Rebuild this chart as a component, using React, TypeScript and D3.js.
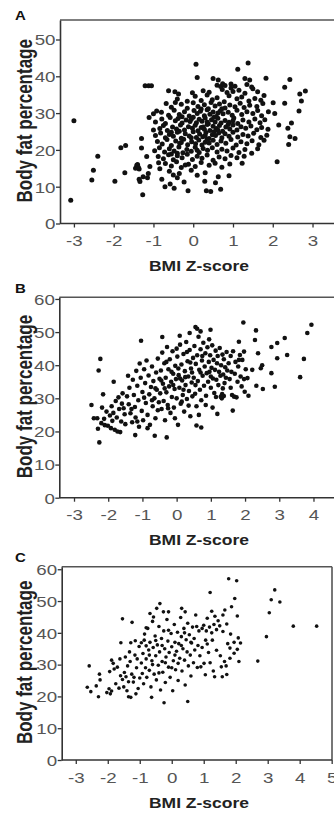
import React, { useRef, useEffect } from 'react';
import * as d3 from 'd3';

type Pt = [number, number];

const xLabel = 'BMI Z-score';
const yLabel = 'Body fat percentage';

const xTicksA = [-3, -2, -1, 0, 1, 2, 3];
const xTicksB = [-3, -2, -1, 0, 1, 2, 3, 4];
const xTicksC = [-3, -2, -1, 0, 1, 2, 3, 4, 5];
const yTicksA = [0, 10, 20, 30, 40, 50];
const yTicksBC = [0, 10, 20, 30, 40, 50, 60];

// panel A: BMI z-score vs body fat %
const pointsA: Pt[] = [
  [-3.08, 6.3], [-3.0, 27.9], [-2.55, 11.8], [-2.51, 14.5], [-2.4, 18.3], [-1.97, 11.5], [-1.82, 20.6], [-1.72, 13.8],
  [-1.7, 21.2], [-1.21, 37.4], [-1.12, 37.4], [-1.05, 37.4], [-1.27, 7.8], [-0.13, 8.9], [0.07, 43.3], [1.38, 43.6],
  [1.12, 41.9], [2.43, 39.1], [2.3, 37.0], [2.82, 36.0], [2.68, 35.2], [2.72, 33.3], [2.66, 30.6], [2.3, 32.7],
  [2.01, 32.8], [2.11, 16.8], [2.47, 27.3], [2.38, 25.9], [2.43, 23.6], [2.56, 23.1], [2.4, 21.5], [2.15, 26.8],
  [1.89, 30.4], [2.05, 29.9], [1.83, 39.5], [0.1, 39.7], [0.5, 39.4], [0.63, 39.0], [1.3, 39.4], [1.42, 39.0],
  [0.69, 9.3], [0.33, 8.9], [0.44, 8.7], [0.56, 11.1], [0.29, 11.5], [0.63, 12.7], [0.9, 13.0], [1.23, 16.4],
  [1.47, 19.1], [-0.71, 10.0], [-0.58, 10.7], [-0.48, 9.6], [-0.23, 11.3], [-0.79, 12.0], [-0.87, 16.5], [-0.84, 14.9],
  [-1.34, 11.4], [-1.26, 12.7], [-1.13, 13.6], [-1.09, 15.5], [-1.17, 18.2], [-1.3, 20.5], [-1.3, 23.1], [-1.45, 15.0],
  [-1.4, 16.0], [-1.36, 14.8], [-1.42, 15.8], [-1.38, 15.3], [-1.11, 28.8], [-0.92, 30.6], [-0.68, 32.6], [-0.62, 36.1],
  [-0.46, 35.8], [-0.37, 35.2],
  [-0.4, 33.8], [0.05, 34.6], [0.2, 33.4], [0.35, 34.9], [0.48, 33.6], [0.6, 34.2], [0.78, 33.1], [0.9, 34.7],
  [1.1, 33.9], [1.22, 34.4], [1.4, 33.3], [1.55, 34.0], [1.7, 33.5], [1.78, 34.8], [-0.15, 33.2],
  [-0.02, 35.5], [0.25, 36.1], [0.73, 36.4], [0.85, 35.6], [0.95, 36.8], [1.0, 35.9], [1.15, 36.2], [1.3, 35.4],
  [1.5, 36.6], [1.62, 35.8], [0.4, 35.7],
  [0.69, 37.2], [0.74, 38.0], [0.8, 37.5], [0.95, 37.9], [1.05, 37.3], [1.35, 37.8], [1.47, 37.1], [0.6, 37.6],
  [-0.55, 31.6], [-0.3, 32.4], [-0.15, 31.3], [0.0, 32.8], [0.12, 31.8], [0.28, 32.3], [0.38, 31.2], [0.45, 32.9],
  [0.55, 31.9], [0.66, 32.5], [0.8, 31.4], [0.92, 32.2], [1.05, 31.7], [1.18, 32.7], [1.28, 31.5], [1.42, 32.1],
  [1.6, 31.8], [1.75, 32.6], [-0.45, 32.9], [0.2, 31.1], [0.72, 31.2],
  [-1.0, 29.8], [-0.8, 30.2], [-0.62, 29.4], [-0.48, 30.8], [-0.35, 29.6], [-0.22, 30.4], [-0.1, 29.2], [0.02, 30.7],
  [0.1, 29.9], [0.18, 30.5], [0.28, 29.3], [0.35, 30.9], [0.42, 29.7], [0.5, 30.3], [0.58, 29.1], [0.68, 30.6],
  [0.75, 29.8], [0.88, 30.2], [0.98, 29.4], [1.1, 30.8], [1.22, 29.6], [1.35, 30.4], [1.5, 29.9], [1.62, 30.7],
  [-0.28, 29.0], [0.62, 30.0], [1.72, 29.3],
  [-0.95, 27.6], [-0.79, 28.4], [-0.7, 27.2], [-0.58, 28.8], [-0.45, 27.9], [-0.38, 28.5], [-0.28, 27.3], [-0.18, 28.1],
  [-0.08, 27.7], [0.0, 28.9], [0.08, 27.4], [0.15, 28.3], [0.22, 27.8], [0.3, 28.7], [0.38, 27.1], [0.46, 28.2],
  [0.55, 27.6], [0.62, 28.6], [0.7, 27.3], [0.8, 28.0], [0.9, 27.5], [1.02, 28.7], [1.12, 27.2], [1.25, 28.1],
  [1.4, 27.6], [1.55, 28.4], [1.68, 27.4], [1.8, 28.2], [-0.05, 28.3], [0.35, 27.6], [0.52, 28.9], [1.0, 27.9],
  [-0.84, 25.8], [-0.75, 26.6], [-0.65, 25.3], [-0.52, 26.2], [-0.42, 25.7], [-0.32, 26.8], [-0.22, 25.4], [-0.12, 26.3],
  [-0.02, 25.9], [0.05, 26.7], [0.12, 25.2], [0.2, 26.1], [0.28, 25.6], [0.35, 26.9], [0.42, 25.3], [0.5, 26.4],
  [0.58, 25.8], [0.66, 26.6], [0.74, 25.1], [0.82, 26.2], [0.92, 25.7], [1.0, 26.8], [1.1, 25.4], [1.2, 26.3],
  [1.32, 25.9], [1.45, 26.5], [1.6, 25.5], [1.72, 26.1], [1.88, 25.6], [-1.0, 25.4], [0.25, 26.2], [0.62, 25.4],
  [-0.35, 25.1], [0.88, 26.9],
  [-0.95, 23.9], [-0.82, 24.6], [-0.7, 23.3], [-0.6, 24.2], [-0.5, 23.7], [-0.4, 24.8], [-0.3, 23.2], [-0.2, 24.4],
  [-0.1, 23.8], [0.0, 24.9], [0.08, 23.4], [0.16, 24.3], [0.24, 23.6], [0.32, 24.7], [0.4, 23.1], [0.48, 24.1],
  [0.56, 23.9], [0.64, 24.6], [0.72, 23.3], [0.8, 24.4], [0.9, 23.7], [1.0, 24.8], [1.12, 23.5], [1.25, 24.2],
  [1.38, 23.8], [1.52, 24.5], [1.7, 23.4], [1.85, 24.0], [-0.05, 23.3], [0.3, 23.9], [0.52, 24.9], [-0.55, 24.8],
  [-0.9, 22.3], [-0.78, 21.6], [-0.66, 22.8], [-0.55, 21.2], [-0.44, 22.4], [-0.34, 21.8], [-0.24, 22.9], [-0.14, 21.4],
  [-0.04, 22.2], [0.06, 21.7], [0.14, 22.7], [0.22, 21.3], [0.3, 22.1], [0.4, 21.9], [0.5, 22.6], [0.6, 21.5],
  [0.7, 22.4], [0.82, 21.8], [0.95, 22.8], [1.08, 21.3], [1.2, 22.2], [1.35, 21.7], [1.48, 22.5], [1.65, 21.4],
  [1.78, 22.6], [0.35, 22.9], [-0.3, 22.0],
  [-0.97, 19.8], [-0.85, 20.6], [-0.72, 19.4], [-0.6, 20.3], [-0.48, 19.7], [-0.36, 20.8], [-0.26, 19.2], [-0.16, 20.1],
  [-0.05, 19.6], [0.05, 20.7], [0.15, 19.3], [0.25, 20.4], [0.36, 19.9], [0.48, 20.6], [0.6, 19.4], [0.72, 20.2],
  [0.85, 19.7], [1.0, 20.5], [1.15, 19.3], [1.3, 20.1], [1.62, 20.3], [-0.4, 19.1], [0.1, 19.9],
  [-0.88, 18.2], [-0.75, 17.6], [-0.62, 18.7], [-0.5, 17.3], [-0.4, 18.4], [-0.28, 17.9], [-0.15, 18.8], [-0.02, 17.4],
  [0.1, 18.3], [0.22, 17.7], [0.35, 18.6], [0.5, 17.2], [0.65, 18.1], [0.8, 17.6], [0.95, 18.5], [1.1, 17.9],
  [1.28, 18.3], [-0.55, 18.9],
  [-0.7, 16.3], [-0.55, 15.6], [-0.42, 16.8], [-0.3, 15.2], [-0.12, 16.1], [0.05, 15.5], [0.2, 16.6], [0.4, 15.8],
  [0.55, 16.4], [0.72, 15.3], [0.92, 16.2], [-0.2, 15.9],
  [-0.6, 14.2], [-0.35, 13.6], [-0.05, 14.5], [0.3, 13.8], [-0.5, 13.2], [0.1, 13.1],
  [-0.4, 12.4], [-1.15, 12.4], [-1.36, 12.0],
];

// panel B
const pointsB: Pt[] = [
  [-2.23, 41.9], [-2.28, 38.4], [-2.15, 31.2], [-2.49, 28.0], [-2.42, 24.0], [-2.32, 24.0], [-2.26, 16.7], [-1.84, 35.0],
  [-1.04, 47.4], [-0.42, 48.5], [0.09, 48.9], [0.38, 49.7], [0.55, 51.5], [1.95, 52.9], [2.32, 50.5], [2.29, 47.6],
  [3.16, 48.2], [2.94, 46.7], [2.77, 45.5], [2.38, 43.6], [3.23, 43.1], [2.94, 42.1], [3.72, 41.9], [3.94, 52.2],
  [3.82, 49.7], [3.61, 36.4], [2.77, 37.6], [2.5, 40.0], [2.46, 39.1], [2.33, 33.8], [2.52, 32.8], [2.87, 33.5],
  [2.21, 38.6], [2.07, 36.1], [1.97, 35.8], [1.99, 32.0], [1.64, 26.3], [1.19, 25.3], [0.72, 21.2], [0.58, 21.8],
  [-1.21, 18.9], [-0.64, 18.7], [-0.29, 18.2], [1.82, 47.1], [0.99, 50.7], [0.7, 50.2], [0.6, 51.0],
  [-2.2, 22.5], [-2.1, 21.9], [-2.01, 21.7], [-1.92, 21.0], [-1.81, 20.5], [-1.73, 20.0], [-2.12, 23.8], [-1.95, 24.8],
  [-1.85, 25.6], [-1.75, 24.2], [-1.68, 26.8], [-1.9, 27.6], [-1.6, 28.4], [-1.78, 29.2], [-1.55, 27.0], [-1.62, 23.0],
  [-1.52, 25.2], [-2.05, 26.0], [-2.18, 27.2], [-1.7, 30.3], [-1.58, 31.5], [-1.5, 22.2], [-1.88, 23.2], [-2.3, 20.8],
  [-1.65, 19.8],
  [-1.45, 30.6], [-1.4, 28.2], [-1.38, 33.2], [-1.35, 25.5], [-1.3, 22.8], [-1.28, 35.6], [-1.25, 31.0], [-1.22, 27.4],
  [-1.2, 24.2], [-1.18, 38.3], [-1.15, 33.8], [-1.12, 29.4], [-1.1, 21.4], [-1.08, 40.5], [-1.05, 36.2], [-1.02, 26.2],
  [-1.0, 31.9], [-0.98, 23.4], [-0.95, 38.8], [-0.92, 34.6], [-0.9, 28.6], [-0.88, 41.4], [-0.85, 25.0], [-0.82, 36.9],
  [-0.8, 31.2], [-0.78, 22.0], [-0.75, 33.4], [-0.72, 39.6], [-0.7, 27.6], [-0.68, 35.2], [-0.65, 30.0], [-0.62, 24.0],
  [-0.6, 37.8], [-0.58, 32.6], [-0.55, 42.0], [-0.52, 28.8], [-0.5, 35.9], [-1.42, 36.8], [-1.32, 26.8], [-0.95, 30.2],
  [-0.72, 29.4], [-0.62, 33.0], [-1.15, 23.0], [-0.85, 21.0], [-0.55, 26.4],
  [-0.48, 31.5], [-0.46, 38.4], [-0.44, 26.8], [-0.42, 43.8], [-0.4, 34.4], [-0.38, 29.2], [-0.36, 40.6], [-0.34, 23.4],
  [-0.32, 36.2], [-0.3, 31.8], [-0.28, 45.5], [-0.26, 28.0], [-0.24, 38.8], [-0.22, 33.6], [-0.2, 41.8], [-0.18, 25.6],
  [-0.16, 35.0], [-0.14, 30.4], [-0.12, 44.2], [-0.1, 37.4], [-0.08, 27.2], [-0.06, 32.8], [-0.04, 39.8], [-0.02, 35.8],
  [0.0, 30.0], [0.02, 42.6], [0.04, 22.0], [0.06, 37.0], [0.08, 33.2], [0.1, 46.2], [0.12, 28.4], [0.14, 40.2],
  [0.16, 35.4], [0.18, 31.0], [0.2, 43.4], [0.22, 26.0], [0.24, 38.2], [0.26, 34.0], [0.28, 47.0], [0.3, 29.8],
  [0.32, 41.2], [0.34, 36.6], [0.36, 32.2], [0.38, 44.6], [0.4, 24.6], [0.42, 39.0], [0.44, 34.8], [0.46, 30.6],
  [0.48, 42.2], [-0.35, 33.0], [-0.15, 38.0], [0.05, 39.0], [0.25, 36.4], [0.45, 37.8], [-0.25, 27.0], [0.15, 29.0],
  [-0.05, 24.0], [0.35, 27.8], [-0.45, 35.4], [0.0, 45.0], [0.3, 44.0], [-0.3, 41.0], [-0.1, 34.0], [0.1, 36.0],
  [0.2, 32.6], [0.4, 40.8],
  [0.5, 36.2], [0.52, 45.8], [0.54, 31.4], [0.56, 40.4], [0.58, 27.6], [0.6, 43.0], [0.62, 35.2], [0.64, 48.6],
  [0.66, 38.6], [0.68, 32.6], [0.7, 44.8], [0.72, 29.4], [0.74, 41.4], [0.76, 36.8], [0.78, 46.8], [0.8, 33.8],
  [0.82, 39.6], [0.84, 43.6], [0.86, 30.8], [0.88, 37.6], [0.9, 45.4], [0.92, 35.0], [0.94, 41.0], [0.96, 38.0],
  [0.98, 43.0], [1.0, 33.2], [1.02, 39.2], [1.04, 46.0], [1.06, 36.0], [1.08, 41.6], [1.1, 31.6], [1.12, 38.6],
  [1.14, 44.4], [1.16, 35.6], [1.18, 40.6], [1.2, 42.8], [1.22, 34.0], [1.24, 38.0], [1.26, 45.2], [1.28, 36.8],
  [1.3, 40.0], [1.32, 30.0], [1.34, 43.2], [1.36, 37.2], [1.38, 41.8], [1.4, 34.6], [1.42, 39.4], [1.44, 36.2],
  [1.46, 44.0], [1.48, 38.4], [0.65, 25.0], [0.85, 28.0], [1.05, 27.2], [0.55, 34.0], [0.75, 42.8], [0.95, 47.8],
  [1.15, 30.4], [1.35, 33.0], [0.7, 37.8], [1.0, 36.6],
  [1.52, 40.6], [1.55, 35.8], [1.58, 42.8], [1.6, 38.0], [1.62, 31.0], [1.65, 44.2], [1.68, 30.5], [1.7, 37.4],
  [1.72, 41.0], [1.75, 30.3], [1.78, 35.0], [1.8, 39.6], [1.85, 43.1], [1.87, 36.6], [1.9, 33.6], [1.92, 41.6],
  [1.97, 44.1], [2.02, 38.8], [2.1, 30.8], [1.58, 33.2], [1.38, 30.7], [1.33, 31.3], [1.29, 30.5], [1.82, 41.6],
];

// panel C
const pointsC: Pt[] = [
  [-2.58, 29.6], [-2.64, 22.9], [-2.53, 21.5], [-2.29, 19.9], [-2.36, 23.3], [-2.24, 25.2], [-2.26, 27.0], [-2.03, 21.2],
  [-1.96, 22.4], [-1.92, 20.8], [-1.88, 21.7], [-1.88, 31.4], [-1.83, 30.4], [-1.94, 27.8], [-1.59, 36.9], [-1.54, 44.4],
  [-1.24, 43.3], [-1.28, 36.9], [-1.14, 37.5], [-1.35, 19.9], [-1.28, 19.7], [-0.63, 19.7], [-0.24, 18.0], [0.5, 18.4],
  [-0.37, 49.2], [-0.47, 47.7], [-0.26, 46.6], [-0.1, 46.6], [-0.68, 46.1], [-0.57, 45.0], [0.31, 47.7], [0.42, 46.6],
  [1.78, 57.0], [2.03, 56.4], [1.2, 52.7], [1.97, 50.8], [3.22, 53.5], [3.11, 50.4], [3.38, 49.7], [3.05, 46.3],
  [3.8, 42.1], [4.53, 42.1], [2.96, 38.8], [2.69, 31.1], [2.05, 45.3], [1.87, 48.2],
  [-1.54, 25.3], [-1.48, 27.5], [-1.43, 26.2], [-1.6, 26.5], [-1.7, 29.2], [-1.8, 28.6], [-1.75, 24.0], [-1.65, 22.6],
  [-1.5, 23.0], [-1.4, 21.8], [-1.38, 29.6], [-1.3, 31.0], [-1.25, 27.0], [-1.2, 24.5], [-1.15, 33.0], [-1.1, 29.0],
  [-1.05, 22.5], [-1.02, 35.7], [-0.95, 36.9], [-0.86, 37.7], [-0.8, 35.9], [-1.32, 34.0], [-1.45, 32.4], [-1.18, 26.0],
  [-1.08, 31.8], [-1.62, 31.8], [-1.0, 25.8], [-1.35, 24.6], [-1.12, 20.8],
  [-0.95, 30.5], [-0.92, 27.2], [-0.9, 33.5], [-0.88, 24.0], [-0.85, 39.6], [-0.82, 29.0], [-0.8, 31.8], [-0.78, 26.0],
  [-0.75, 41.4], [-0.72, 34.6], [-0.7, 28.2], [-0.68, 37.0], [-0.65, 23.0], [-0.62, 31.2], [-0.6, 43.6], [-0.58, 35.4],
  [-0.55, 27.0], [-0.52, 39.0], [-0.5, 32.8], [-0.48, 25.2], [-0.45, 36.2], [-0.42, 29.8], [-0.4, 42.0], [-0.38, 34.0],
  [-0.35, 22.0], [-0.32, 38.2], [-0.3, 31.0], [-0.28, 27.6], [-0.25, 40.6], [-0.22, 35.0], [-0.2, 24.4], [-0.18, 32.4],
  [-0.15, 44.2], [-0.12, 37.4], [-0.1, 29.2], [-0.08, 33.8], [-0.05, 26.0], [-0.02, 39.8], [0.0, 35.6], [0.03, 21.8],
  [0.05, 31.2], [0.08, 42.6], [0.1, 37.0], [0.12, 28.4], [0.15, 34.2], [0.18, 40.2], [0.2, 25.0], [0.22, 36.6],
  [0.25, 32.0], [0.28, 44.8], [0.3, 38.8], [0.32, 28.0], [0.35, 35.0], [0.38, 41.4], [0.4, 31.4], [0.42, 23.6],
  [0.45, 37.8], [0.48, 34.0], [0.5, 43.0], [0.52, 29.6], [0.55, 39.4], [0.58, 33.0], [0.6, 26.4], [0.62, 36.8],
  [0.65, 41.8], [0.68, 30.6], [0.7, 38.2], [0.72, 34.6], [0.75, 45.6], [0.78, 42.0], [0.8, 29.1], [0.82, 36.0],
  [0.85, 40.6], [0.88, 32.8], [0.91, 29.3], [-0.6, 30.0], [-0.4, 27.4], [-0.2, 30.6], [0.0, 29.0], [0.2, 30.4],
  [-0.5, 37.6], [-0.1, 40.8], [0.3, 36.0], [-0.7, 33.0], [0.1, 33.0], [-0.3, 36.0], [0.6, 37.0], [0.4, 40.0],
  [-0.8, 41.6],
  [0.95, 41.4], [1.01, 30.4], [1.06, 37.7], [1.11, 36.5], [1.27, 37.7], [1.2, 30.6], [1.11, 44.6], [1.25, 46.8],
  [1.35, 45.2], [1.45, 43.8], [1.6, 45.6], [1.66, 47.2], [1.0, 42.4], [1.08, 40.6], [1.18, 41.8], [1.25, 40.0],
  [1.32, 42.6], [1.4, 41.0], [1.5, 42.2], [1.6, 40.4], [1.72, 42.8], [1.84, 39.6], [1.75, 36.6], [1.82, 35.2],
  [1.95, 37.0], [2.08, 38.4], [2.15, 36.8], [2.05, 34.8], [1.52, 32.8], [1.65, 31.0], [1.82, 32.0], [1.95, 33.6],
  [1.7, 29.6], [1.55, 29.3], [1.34, 26.2], [1.58, 26.2], [1.72, 26.9], [1.4, 34.5], [1.15, 33.8], [1.3, 28.0],
  [0.95, 35.4], [1.05, 26.8], [2.1, 31.0],
];

const font = '"Liberation Sans", Arial, Helvetica, sans-serif';
const stretch = 1.25; // the figure is a bit wider than tall

const panels = [
  { letter: 'A', pts: pointsA, xDomain: [-3.35, 3.54], yDomain: [0, 55.3], xTicks: xTicksA, yTicks: yTicksA,
    left: 60, top: 20, right: 334, bottom: 223.5, r: 2.5, rightBorder: false, letterY: 20 },
  { letter: 'B', pts: pointsB, xDomain: [-3.43, 4.6], yDomain: [0, 60.5], xTicks: xTicksB, yTicks: yTicksBC,
    left: 59.3, top: 297.3, right: 334, bottom: 497.7, r: 2.3, rightBorder: false, letterY: 293 },
  { letter: 'C', pts: pointsC, xDomain: [-3.44, 5.01], yDomain: [0, 60.8], xTicks: xTicksC, yTicks: yTicksBC,
    left: 61.7, top: 566.7, right: 332, bottom: 760, r: 1.8, rightBorder: true, letterY: 562 },
];

const Panel = ({ cfg }: { cfg: typeof panels[number] }) => {
  const gRef = useRef<SVGGElement>(null);

  useEffect(() => {
    const g = d3.select(gRef.current);
    g.selectAll('*').remove();
    const { left, top, right, bottom } = cfg;

    const x = d3.scaleLinear().domain(cfg.xDomain).range([left, right]);
    const y = d3.scaleLinear().domain(cfg.yDomain).range([bottom, top]);

    // frame (top + optional right)
    g.append('line').attr('x1', left).attr('x2', cfg.rightBorder ? right : 336)
      .attr('y1', top).attr('y2', top).attr('stroke', '#555').attr('stroke-width', 1.6);
    if (cfg.rightBorder) {
      g.append('line').attr('x1', right).attr('x2', right).attr('y1', top).attr('y2', bottom)
        .attr('stroke', '#555').attr('stroke-width', 1.6);
    }

    g.append('g').selectAll('circle')
      .data(cfg.pts)
      .enter()
      .append('circle')
      .attr('cx', d => x(d[0]))
      .attr('cy', d => y(d[1]))
      .attr('r', cfg.r)
      .attr('fill', '#111');

    const xAxis = g.append('g')
      .attr('transform', `translate(0,${bottom})`)
      .call(d3.axisBottom(x).tickValues(cfg.xTicks).tickSize(4).tickSizeOuter(0).tickFormat(d => String(d)));
    xAxis.select('.domain').attr('d', `M${left},0H${cfg.rightBorder ? right : 336}`);
    const yAxis = g.append('g')
      .attr('transform', `translate(${left},0)`)
      .call(d3.axisLeft(y).tickValues(cfg.yTicks).tickSize(4).tickSizeOuter(0).tickFormat(d => String(d)));

    [xAxis, yAxis].forEach(ax => {
      ax.select('.domain').attr('stroke', '#333').attr('stroke-width', 1.6);
      ax.selectAll('.tick line').attr('stroke', '#333').attr('stroke-width', 1.3);
      ax.selectAll('text').attr('font-family', font).attr('font-size', 15).attr('fill', '#555');
    });
    xAxis.selectAll('text').attr('y', null).attr('dy', null)
      .attr('transform', `translate(0,22.5) scale(${stretch},1)`);
    yAxis.selectAll('text').attr('x', null).attr('dy', null)
      .attr('transform', `translate(-4.5,5.3) scale(${stretch},1)`);

    g.append('text')
      .attr('transform', `translate(199,${bottom + 47.5}) scale(${stretch},1)`)
      .attr('text-anchor', 'middle')
      .attr('font-family', font).attr('font-weight', 'bold').attr('font-size', 14).attr('fill', '#222')
      .text(xLabel);

    g.append('text')
      .attr('transform', `translate(31.5,${(top + bottom) / 2 - 1}) scale(${stretch},1) rotate(-90)`)
      .attr('text-anchor', 'middle')
      .attr('font-family', font).attr('font-weight', 'bold').attr('font-size', 17).attr('fill', '#222')
      .text(yLabel);

    g.append('text')
      .attr('transform', `translate(15,${cfg.letterY}) scale(${stretch},1)`)
      .attr('font-family', font).attr('font-weight', 'bold').attr('font-size', 12).attr('fill', '#111')
      .text(cfg.letter);
  }, [cfg]);

  return <g ref={gRef}></g>;
};

export default function App() {
  return (
    <svg width={334} height={814} style={{ position: 'absolute', left: 0, top: 0, background: '#fff' }}>
      {panels.map(p => <Panel key={p.letter} cfg={p} />)}
    </svg>
  );
}
